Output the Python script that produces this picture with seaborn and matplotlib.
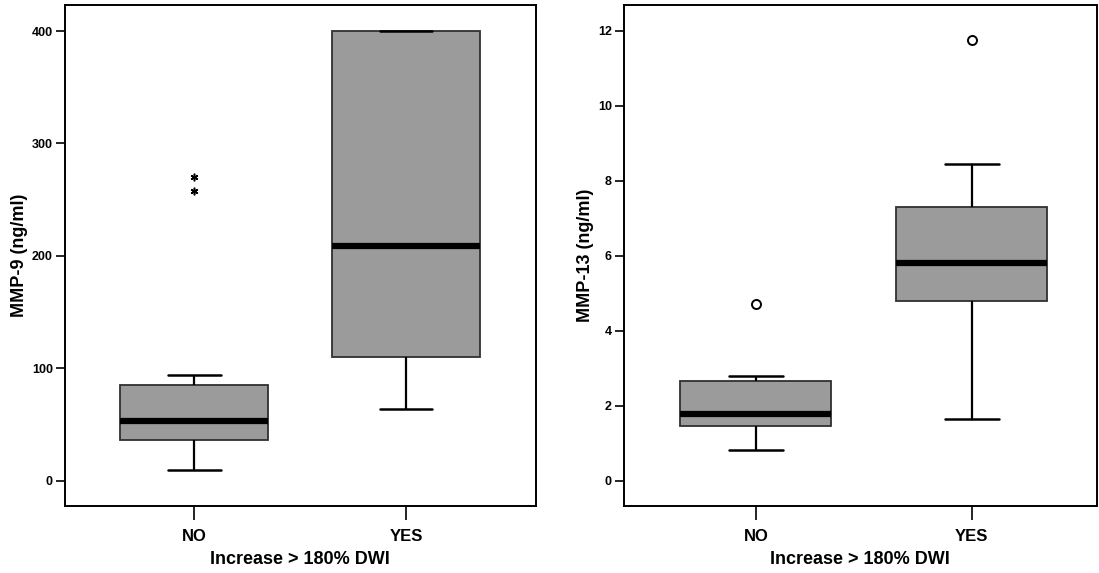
"""Boxplots MMP-9 / MMP-13 selon l'augmentation > 180% DWI."""
import matplotlib
matplotlib.use("Agg")
import matplotlib.pyplot as plt
import numpy as np
import pandas as pd
import seaborn as sns

sns.set_theme(style="ticks")
plt.rcParams["font.family"] = ["Liberation Sans", "DejaVu Sans"]
plt.rcParams["font.weight"] = "bold"
for key in ["text.color", "axes.labelcolor", "xtick.color", "ytick.color"]:
    plt.rcParams[key] = "black"

GROUPS = ["NO", "YES"]
XLABEL = "Increase > 180% DWI"

# valeurs (quartiles, moustaches, valeurs extrêmes)
mmp9_no = [9.8, 20.0, 30.0, 36.5, 42.0, 48.0, 53.5, 62.0, 75.0, 85.3, 93.9, 257.6, 270.0]
mmp9_yes = [63.9, 90.0, 110.0, 160.0, 208.6, 300.0, 400.0, 400.0, 400.0]
mmp13_no = [0.81, 1.10, 1.30, 1.47, 1.55, 1.65, 1.77, 2.00, 2.30, 2.67, 2.72, 2.79, 4.71]
mmp13_yes = [1.65, 3.20, 4.30, 4.80, 5.20, 5.50, 5.82, 6.30, 6.80, 7.29, 7.90, 8.46, 11.76]

BOX_COLOR = "#9b9b9b"


def long_df(no_vals, yes_vals):
    return pd.DataFrame({
        "group": ["NO"] * len(no_vals) + ["YES"] * len(yes_vals),
        "value": list(no_vals) + list(yes_vals),
    })


fig = plt.figure(figsize=(10.99, 5.73), dpi=100)
ax1 = fig.add_axes([0.0589, 0.1175, 0.4286, 0.8738])
ax2 = fig.add_axes([0.5675, 0.1175, 0.4307, 0.8738])

panels = [
    (ax1, long_df(mmp9_no, mmp9_yes), "MMP-9 (ng/ml)", [0, 100, 200, 300, 400],
     (-22.2, 423.2), (-0.612, 1.613), dict(marker=(6, 2, 0), markersize=5.5, markeredgewidth=1.1)),
    (ax2, long_df(mmp13_no, mmp13_yes), "MMP-13 (ng/ml)", [0, 2, 4, 6, 8, 10, 12],
     (-0.667, 12.69), (-0.612, 1.58), dict(marker="o", markersize=6.5, markeredgewidth=1.4,
                                          markerfacecolor="white")),
]

for ax, df, ylabel, yticks, ylim, xlim, fprops in panels:
    flier = dict(markeredgecolor="black", markerfacecolor="black", linestyle="none")
    flier.update(fprops)
    sns.boxplot(
        data=df, x="group", y="value", order=GROUPS, ax=ax,
        color=BOX_COLOR, saturation=1, width=0.70, capwidths=0.25,
        boxprops=dict(facecolor=BOX_COLOR, edgecolor="#303030", linewidth=1.3),
        medianprops=dict(color="black", linewidth=4.5),
        whiskerprops=dict(color="black", linewidth=1.6),
        capprops=dict(color="black", linewidth=1.8),
        flierprops=flier,
    )
    ax.set_xlim(*xlim)
    ax.set_ylim(*ylim)
    ax.set_yticks(yticks)
    ax.set_yticklabels([str(t) for t in yticks], fontsize=9, fontweight="bold")
    ax.set_xticks([0, 1])
    ax.set_xticklabels(GROUPS, fontsize=12, fontweight="bold")
    ax.set_xlabel(XLABEL, fontsize=13, fontweight="bold", labelpad=5)
    ax.set_ylabel(ylabel, fontsize=13, fontweight="bold", labelpad=3)
    ax.tick_params(axis="y", length=6.5, width=1.2, color="black", pad=2)
    ax.tick_params(axis="x", length=10, width=1.2, color="black", pad=7)
    for s in ax.spines.values():
        s.set_visible(True)
        s.set_color("black")
        s.set_linewidth(1.4)

plt.savefig("out.png", dpi=100)
plt.close()
